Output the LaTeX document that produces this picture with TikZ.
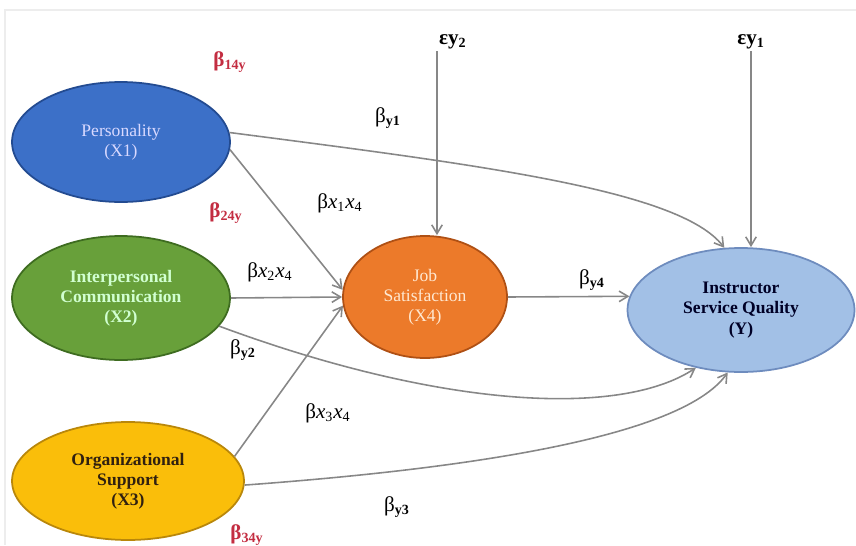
\documentclass[tikz,border=0pt]{standalone}
\usepackage{fontspec}
\setmainfont{Liberation Serif}
\usepackage{tikz}
\usetikzlibrary{arrows.meta,shapes.geometric}
\definecolor{figline}{RGB}{135,135,135}
\definecolor{figred}{RGB}{195,45,65}
\definecolor{xonefill}{RGB}{60,112,200}
\definecolor{xonedraw}{RGB}{35,75,145}
\definecolor{xtwofill}{RGB}{104,160,58}
\definecolor{xtwodraw}{RGB}{62,108,32}
\definecolor{xthreefill}{RGB}{250,190,10}
\definecolor{xthreedraw}{RGB}{185,135,10}
\definecolor{xfourfill}{RGB}{236,122,42}
\definecolor{xfourdraw}{RGB}{175,80,20}
\definecolor{yfill}{RGB}{162,192,230}
\definecolor{ydraw}{RGB}{110,140,190}
\tikzset{
  var/.style  ={ellipse, line width=1pt, align=center, inner sep=0pt,
                font=\fontsize{10}{11.5}\selectfont},
  varb/.style ={var, font=\fontsize{10}{11.5}\selectfont\bfseries},
  arr/.style  ={draw=figline, line width=0.9pt, -{Straight Barb[length=5pt,width=6pt]}},
  coef/.style ={font=\fontsize{12}{14}\selectfont, inner sep=1pt},
  coefr/.style={coef, text=figred, font=\fontsize{12}{14}\selectfont\bfseries},
}

\begin{document}
\begin{tikzpicture}[x=0.02cm,y=-0.02cm]
  \useasboundingbox (0,0) rectangle (856,545);
  \draw[draw=black!7,line width=0.6pt] (5,545) -- (5,10) -- (856,10);
  % constructs
  \node[var, fill=xonefill, draw=xonedraw, text=white!85!blue,
        minimum width=4.36cm, minimum height=2.4cm] (p1) at (121,142)
        {Personality\\(X1)};
  \node[varb, fill=xtwofill, draw=xtwodraw, text=white!82!green,
        minimum width=4.36cm, minimum height=2.48cm] (p2) at (121,298)
        {Interpersonal\\Communication\\(X2)};
  \node[varb, fill=xthreefill, draw=xthreedraw, text=black!75!brown,
        minimum width=4.64cm, minimum height=2.36cm] (p3) at (128,481)
        {Organizational\\Support\\(X3)};
  \node[var, fill=xfourfill, draw=xfourdraw, text=white!82!orange,
        minimum width=3.28cm, minimum height=2.44cm] (p4) at (425,297)
        {Job\\Satisfaction\\(X4)};
  \node[varb, fill=yfill, draw=ydraw, text=black!85!blue,
        minimum width=4.54cm, minimum height=2.48cm] (y) at (741,310)
        {Instructor\\Service Quality\\(Y)};
  % error terms
  \node[coef, font=\fontsize{12}{14}\selectfont\bfseries, anchor=west] (e2) at (437,42) {εy\textsubscript{2}};
  \node[coef, font=\fontsize{12}{14}\selectfont\bfseries] (e1) at (751,42) {εy\textsubscript{1}};
  \draw[arr] (e2.south west) -- (e2.south west |- p4.north);
  \draw[arr] (e1.south) -- (e1.south |- y.north);
  % paths
  \draw[arr] (p1.-4) -- (p4.175);
  \draw[arr] (p2.east) -- (p4.west);
  \draw[arr] (p3.13) -- (p4.186);
  \draw[arr] (p4.east) -- (y.173);
  \draw[arr] (p1.5) .. controls (480,165) and (680,190) .. (y.105);
  \draw[arr] (p2.-16) .. controls (440,408) and (620,418) .. (y.232);
  \draw[arr] (p3.-2) .. controls (450,470) and (680,440) .. (y.258);
  % coefficients
  \node[coefr] (b14) at (230,62) {β\textsubscript{14y}};
  \node[coefr] (b24) at (226,213) {β\textsubscript{24y}};
  \node[coefr] (b34) at (247,535) {β\textsubscript{34y}};
  \node[coef] (by1) at (388,118) {β\textsubscript{\textbf{y1}}};
  \node[coef] (bx1) at (340,203) {β\textit{x}\textsubscript{1}\textit{x}\textsubscript{4}};
  \node[coef] (bx2) at (270,272) {β\textit{x}\textsubscript{2}\textit{x}\textsubscript{4}};
  \node[coef] (by2) at (243,350) {β\textsubscript{\textbf{y2}}};
  \node[coef] (bx3) at (328,413) {β\textit{x}\textsubscript{3}\textit{x}\textsubscript{4}};
  \node[coef] (by3) at (397,507) {β\textsubscript{\textbf{y3}}};
  \node[coef] (by4) at (592,280) {β\textsubscript{\textbf{y4}}};
\end{tikzpicture}
\end{document}
